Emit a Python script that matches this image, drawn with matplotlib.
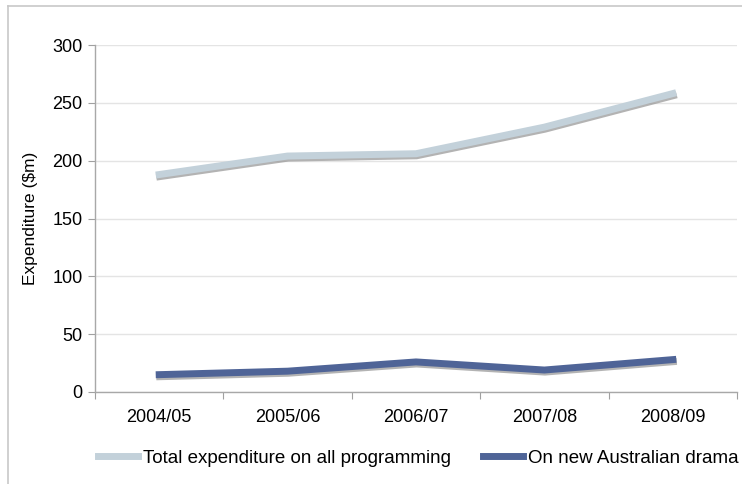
import matplotlib
matplotlib.use("Agg")
import matplotlib.pyplot as plt
import matplotlib.patheffects as pe
from matplotlib.lines import Line2D

years = ["2004/05", "2005/06", "2006/07", "2007/08", "2008/09"]
total_spend = [188, 204, 206, 229, 258]
drama_spend = [15, 18, 26, 19, 28]
series_names = ["Total expenditure on all programming", "On new Australian drama"]

plt.rcParams['font.family'] = ['Liberation Sans', 'DejaVu Sans']
plt.rcParams['font.size'] = 11

fig = plt.figure(figsize=(7.42, 4.84), dpi=100)
ax = fig.add_axes([95/742, 1 - 392/484, (737 - 95)/742, (392 - 45)/484])

shadow = [pe.SimpleLineShadow(offset=(0.4, -1.5), shadow_color='#9a9a9a', alpha=0.75), pe.Normal()]
x = list(range(len(years)))
ax.plot(x, total_spend, color='#c3d1da', lw=5, solid_joinstyle='miter',
        path_effects=shadow, label=series_names[0], zorder=3)
ax.plot(x, drama_spend, color='#4f6497', lw=5, solid_joinstyle='miter',
        path_effects=shadow, label=series_names[1], zorder=3)

ax.set_xlim(-0.5, len(years) - 0.5)
ax.set_ylim(0, 300)
ax.set_yticks(range(0, 301, 50))
ax.set_xticks([i - 0.5 for i in range(len(years) + 1)])
ax.set_xticklabels([])
ax.set_xticks(x, minor=True)
ax.set_xticklabels(years, minor=True)
ax.tick_params(axis='x', which='minor', length=0, pad=12, labelsize=13)
ax.tick_params(axis='x', which='major', length=5, color='#a0a0a0', direction='out')
ax.tick_params(axis='y', length=5, color='#a0a0a0', direction='out', pad=4, labelsize=13)

ax.grid(axis='y', color='#e4e4e4', lw=1)
ax.set_axisbelow(True)
for s in ['top', 'right']:
    ax.spines[s].set_visible(False)
for s in ['left', 'bottom']:
    ax.spines[s].set_color('#a8a8a8')
    ax.spines[s].set_linewidth(1)

ax.set_ylabel(r"Expenditure (\$m)", fontsize=12.5, labelpad=10)

handles = [Line2D([], [], color='#c3d1da', lw=5), Line2D([], [], color='#4f6497', lw=5)]
fig.legend(handles, series_names, loc='center', bbox_to_anchor=(0.5635, 1 - 458/484),
           ncol=2, frameon=False, fontsize=13.5, handlelength=2.15, handletextpad=0.25,
           columnspacing=1.7)

# thin frame round the chart area
fig.add_artist(Line2D([8/742, 8/742], [0, 1 - 6/484], color='#c8c8c8', lw=1.2))
fig.add_artist(Line2D([8/742, 1], [1 - 6/484, 1 - 6/484], color='#c8c8c8', lw=1.2))

fig.savefig("out.png", dpi=100)
